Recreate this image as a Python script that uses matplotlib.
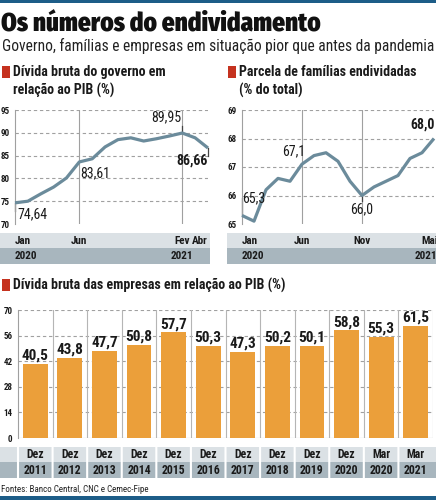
import matplotlib
matplotlib.use('Agg')
import matplotlib.pyplot as plt
from matplotlib.patches import Rectangle

plt.rcParams['font.family'] = ['Roboto Condensed', 'DejaVu Sans']

W, H = 436, 500

# --- dados ---
gov_meses = ['Jan', 'Fev', 'Mar', 'Abr', 'Mai', 'Jun', 'Jul', 'Ago',
             'Set', 'Out', 'Nov', 'Dez', 'Jan', 'Fev', 'Mar', 'Abr']
gov_divida = [74.64, 75.0, 76.6, 78.1, 80.1, 83.61, 84.3, 86.9,
              88.5, 88.9, 88.2, 88.7, 89.3, 89.95, 88.9, 86.66]
gov_ticks = [0, 5, 13, 15]
gov_anos = {0: '2020', 13: '2021'}

fam_meses = ['Jan', 'Fev', 'Mar', 'Abr', 'Mai', 'Jun', 'Jul', 'Ago', 'Set',
             'Out', 'Nov', 'Dez', 'Jan', 'Fev', 'Mar', 'Abr', 'Mai']
fam_parcela = [65.3, 65.1, 66.2, 66.6, 66.5, 67.1, 67.4, 67.5, 67.2,
               66.5, 66.0, 66.3, 66.5, 66.7, 67.3, 67.5, 68.0]
fam_ticks = [0, 5, 10, 16]
fam_anos = {0: '2020', 16: '2021'}

emp_meses = ['Dez'] * 10 + ['Mar', 'Mar']
emp_anos = ['2011', '2012', '2013', '2014', '2015', '2016',
            '2017', '2018', '2019', '2020', '2020', '2021']
emp_divida = [40.5, 43.8, 47.7, 50.8, 57.7, 50.3, 47.3, 50.2, 50.1, 58.8, 55.3, 61.5]

# --- cores ---
AZUL = '#1d5d88'
VERMELHO = '#c5321f'
LINHA = '#6b8b9b'
LARANJA = '#eb9f3a'
CINZA1 = '#dbe1e5'
CINZA2 = '#a8b6be'
GRADE = '#a0a0a0'
TEXTO = '#1a1a1a'


def box(l, t, r, b):
    return [l / W, 1 - b / H, (r - l) / W, (b - t) / H]


def fmt(v, d):
    return ('{:.%df}' % d).format(v).replace('.', ',')


fig = plt.figure(figsize=(W / 100, H / 100), dpi=100)
bg = fig.add_axes([0, 0, 1, 1], zorder=-1)
bg.set_xlim(0, W)
bg.set_ylim(H, 0)
bg.axis('off')

# faixas azuis
bg.add_patch(Rectangle((0, 0), W, 3, color=AZUL, lw=0))
bg.add_patch(Rectangle((0, 496), W, 4, color=AZUL, lw=0))

bg.text(1, 31, 'Os números do endividamento', fontsize=18, fontweight=900,
        family=['Fira Sans Condensed', 'Roboto Condensed', 'DejaVu Sans'],
        color='#111111', va='baseline')
bg.text(2, 51, 'Governo, famílias e empresas em situação pior que antes da pandemia',
        fontsize=11.2, color='#222222', va='baseline')


def titulo(x, y, linhas):
    bg.add_patch(Rectangle((x, y - 6), 8, 12, color=VERMELHO, lw=0))
    for i, t in enumerate(linhas):
        bg.text(x + 11, y + i * 18, t, fontsize=10, fontweight='bold',
                color=TEXTO, va='center')


titulo(2, 72, ['Dívida bruta do governo em', 'relação ao PIB (%)'])
titulo(228, 72, ['Parcela de famílias endividadas', '(% do total)'])
titulo(2, 285, ['Dívida bruta das empresas em relação ao PIB (%)'])


def estilo(ax, yticks, ylim):
    ax.set_ylim(*ylim)
    ax.set_yticks(yticks)
    ax.set_yticklabels([str(v) for v in yticks], fontsize=6.5, fontweight='bold', color=TEXTO)
    ax.tick_params(axis='y', length=0, pad=4)
    ax.tick_params(axis='x', length=0, labelbottom=False)
    for s in ['top', 'right', 'bottom']:
        ax.spines[s].set_visible(False)
    ax.spines['left'].set_color(GRADE)
    ax.spines['left'].set_linewidth(0.8)
    for v in yticks[1:]:
        ax.axhline(v, color=GRADE, lw=0.8, ls=(0, (3, 2.5)), zorder=0)
    ax.patch.set_alpha(0)


def faixas(ax, x0, x1, ticks, meses, anos, last_ha, last_dx):
    bg.add_patch(Rectangle((x0, 233), x1 - x0, 15, color=CINZA1, lw=0))
    bg.add_patch(Rectangle((x0, 248), x1 - x0, 16, color=CINZA2, lw=0))
    for k, i in enumerate(ticks):
        ha, dx = ('left' if k == 0 else 'center'), 0
        if k == len(ticks) - 1:
            ha, dx = last_ha, last_dx
        ax.annotate(meses[i], xy=(i, 241), xycoords=(ax.transData, bg.transData),
                    xytext=(dx, 0), textcoords='offset points',
                    ha=ha, va='center', fontsize=8, fontweight='bold', color=TEXTO,
                    annotation_clip=False)
    for i, a in anos.items():
        ha, dx = ('left' if i == 0 else 'center'), 0
        if i == ticks[-1]:
            ha, dx = last_ha, last_dx
        ax.annotate(a, xy=(i, 256), xycoords=(ax.transData, bg.transData),
                    xytext=(dx, 0), textcoords='offset points',
                    ha=ha, va='center', fontsize=8, fontweight='bold', color=TEXTO,
                    annotation_clip=False)


def rotulo(ax, i, v, d, dx, dy, ha, va, bold=False, tick=None):
    ax.annotate(fmt(v, d), xy=(i, v), xytext=(dx, dy), textcoords='offset points',
                ha=ha, va=va, fontsize=10, color=TEXTO,
                fontweight='bold' if bold else 'normal', annotation_clip=False)
    if tick is not None:
        ax.plot([i, i], [v, tick], color='#444444', lw=0.9, zorder=2, clip_on=False)


# --- governo ---
ax1 = fig.add_axes(box(15, 110, 208, 224))
x1 = list(range(len(gov_divida)))
ax1.set_xlim(0, len(gov_divida) - 1)
estilo(ax1, [70, 75, 80, 85, 90, 95], (70, 95))
for i in gov_ticks[1:3]:
    ax1.axvline(i, color=GRADE, lw=0.8, zorder=0)
ax1.plot(x1, gov_divida, color=LINHA, lw=2.3, solid_capstyle='butt', zorder=3, clip_on=False)
rotulo(ax1, 0, gov_divida[0], 2, 2, -3, 'left', 'top', tick=72.9)
rotulo(ax1, 5, gov_divida[5], 2, 1, -3, 'left', 'top')
rotulo(ax1, 13, gov_divida[13], 2, -1, 6, 'right', 'bottom', tick=91.6)
rotulo(ax1, 15, gov_divida[15], 2, 0, -4, 'right', 'top', bold=True, tick=85.0)
faixas(ax1, 0, 210, gov_ticks, gov_meses, gov_anos, 'right', 0)

# --- famílias ---
ax2 = fig.add_axes(box(242, 110, 434, 224))
x2 = list(range(len(fam_parcela)))
ax2.set_xlim(0, len(fam_parcela) - 1)
estilo(ax2, [65, 66, 67, 68, 69], (65, 69))
for i in fam_ticks[1:3]:
    ax2.axvline(i, color=GRADE, lw=0.8, zorder=0)
ax2.plot(x2, fam_parcela, color=LINHA, lw=2.3, solid_capstyle='butt', zorder=3, clip_on=False)
rotulo(ax2, 0, fam_parcela[0], 1, 0, 7, 'left', 'bottom', tick=65.9)
rotulo(ax2, 5, fam_parcela[5], 1, 2, 4, 'right', 'bottom')
rotulo(ax2, 10, fam_parcela[10], 1, 0, -5, 'center', 'top', tick=65.8)
rotulo(ax2, 16, fam_parcela[16], 1, 0.8, 5, 'right', 'bottom', bold=True)
faixas(ax2, 227, W, fam_ticks, fam_meses, fam_anos, 'right', 2.5)

# --- empresas ---
ax3 = fig.add_axes(box(18, 310, 433, 438))
n = len(emp_divida)
xs = list(range(n))
ax3.set_xlim(-0.5, n - 0.5)
estilo(ax3, [0, 14, 28, 42, 56, 70], (0, 70))
ax3.axhline(0, color=GRADE, lw=0.8, zorder=0)
for k in range(n):
    ax3.axvline(k + 0.5, color='#b5b5b5', lw=0.8, zorder=0)
ax3.bar(xs, emp_divida, width=0.72, color=LARANJA, zorder=2)
for i, v in zip(xs, emp_divida):
    ax3.annotate(fmt(v, 1), xy=(i, v), xytext=(0, 1), textcoords='offset points',
                 ha='center', va='bottom', fontsize=11, fontweight='bold', color=TEXTO)

bg.add_patch(Rectangle((0, 447), W, 15, color=CINZA1, lw=0))
bg.add_patch(Rectangle((0, 462), W, 16, color=CINZA2, lw=0))
for k in range(n):
    ax3.annotate('', xy=(k - 0.5, 447), xytext=(k - 0.5, 478),
                 xycoords=(ax3.transData, bg.transData),
                 textcoords=(ax3.transData, bg.transData),
                 arrowprops=dict(arrowstyle='-', color='white', lw=1.5,
                                 shrinkA=0, shrinkB=0),
                 annotation_clip=False)
for i in xs:
    ax3.annotate(emp_meses[i], xy=(i, 455), xycoords=(ax3.transData, bg.transData),
                 ha='center', va='center', fontsize=8.5, fontweight='bold', color=TEXTO,
                 annotation_clip=False)
    ax3.annotate(emp_anos[i], xy=(i, 470), xycoords=(ax3.transData, bg.transData),
                 ha='center', va='center', fontsize=8.5, fontweight='bold', color=TEXTO,
                 annotation_clip=False)

bg.text(1, 489, 'Fontes: Banco Central, CNC e Cemec-Fipe', fontsize=6.5,
        color='#222222', va='center')

fig.savefig('out.png', dpi=100)
